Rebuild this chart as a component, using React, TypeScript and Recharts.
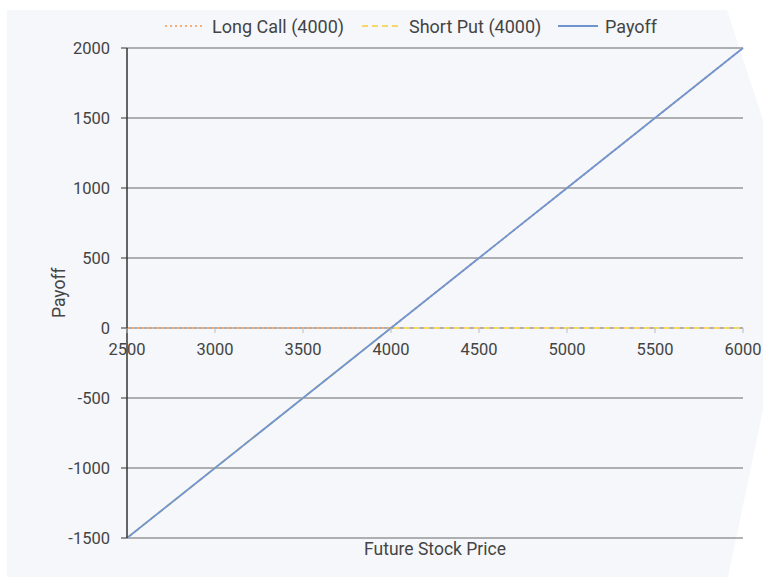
import React from 'react';
import { LineChart, Line, XAxis, YAxis, CartesianGrid, Legend } from 'recharts';

const prices = [2500, 3000, 3500, 4000, 4500, 5000, 5500, 6000];
const longCall = [0, 0, 0, 0, 500, 1000, 1500, 2000];
const shortPut = [-1500, -1000, -500, 0, 0, 0, 0, 0];
const payoff = [-1500, -1000, -500, 0, 500, 1000, 1500, 2000];
const xTicks = [2500, 3000, 3500, 4000, 4500, 5000, 5500, 6000];
const yTicks = [-1500, -1000, -500, 0, 500, 1000, 1500, 2000];

const data = prices.map((p, i) => ({ price: p, longCall: longCall[i], shortPut: shortPut[i], payoff: payoff[i] }));

const W = 763;
const H = 577;
const LEGEND_H = 20;
const MARGIN = { top: 48 - LEGEND_H, right: 20, bottom: 0, left: 52 };
const X_AXIS_H = 39;
const Y_MIN = -1500;
const Y_MAX = 2000;
const PLOT_H = H - 48 - MARGIN.bottom - X_AXIS_H;
const ZERO_SHIFT = (PLOT_H * (0 - Y_MIN)) / (Y_MAX - Y_MIN);

const ORANGE = '#f6ad78';
const YELLOW = '#f7d765';
const BLUE = '#7094d0';
const TEXT = '#444';
const FONT = 'Roboto, sans-serif';

const XTick = (props: any) => {
  const { x, y, payload } = props;
  return (
    <g transform={`translate(${x},${y - ZERO_SHIFT})`}>
      <line x1={0} y1={0} x2={0} y2={5} stroke="#bbb" strokeWidth={1} />
      <text x={0} y={0} dy={27} textAnchor="middle" fill={TEXT} fontSize={16.5} fontFamily={FONT}>
        {payload.value}
      </text>
    </g>
  );
};

const legendItems = [
  { label: 'Long Call (4000)', color: ORANGE, dash: '2 3', width: 197 },
  { label: 'Short Put (4000)', color: YELLOW, dash: '6 4', width: 196 },
  { label: 'Payoff', color: BLUE, dash: undefined, width: 100 },
];

const LegendContent = () => (
  <div style={{ display: 'flex', alignItems: 'center', height: LEGEND_H, fontFamily: FONT, fontSize: 18, color: TEXT, whiteSpace: 'nowrap' }}>
    {legendItems.map((it) => (
      <div key={it.label} style={{ display: 'flex', alignItems: 'center', width: it.width }}>
        <svg width={42} height={10} style={{ marginRight: 5 }}>
          <line x1={0} y1={5} x2={40} y2={5} stroke={it.color} strokeWidth={2} strokeDasharray={it.dash} />
        </svg>
        <span>{it.label}</span>
      </div>
    ))}
  </div>
);

export default function App() {
  return (
    <div style={{ position: 'absolute', left: 0, top: 0, width: W, height: H, background: '#fff' }}>
      <div
        style={{
          position: 'absolute',
          left: 0,
          top: 0,
          width: W,
          height: H,
          background: '#f5f7fb',
          clipPath: 'polygon(7px 10px, 727px 10px, 763px 120px, 763px 410px, 728px 577px, 7px 577px)',
        }}
      />
      <div style={{ position: 'absolute', left: 0, top: 0 }}>
        <LineChart width={W} height={H} data={data} margin={MARGIN}>
          <CartesianGrid vertical={false} stroke="#666" strokeWidth={1} />
          <XAxis
            dataKey="price"
            type="number"
            domain={[2500, 6000]}
            ticks={xTicks}
            height={X_AXIS_H}
            axisLine={false}
            tickLine={false}
            tickSize={0}
            tickMargin={0}
            tick={<XTick />}
            interval={0}
            label={{ value: 'Future Stock Price', position: 'insideTop', offset: 5, fill: TEXT, fontSize: 17.5, fontFamily: FONT }}
          />
          <YAxis
            type="number"
            domain={[Y_MIN, Y_MAX]}
            ticks={yTicks}
            width={75}
            axisLine={{ stroke: '#333', strokeWidth: 1.5 }}
            tickLine={{ stroke: '#333' }}
            tickSize={6}
            tickMargin={11}
            interval={0}
            tick={{ fill: TEXT, fontSize: 16.5, fontFamily: FONT }}
            label={{ value: 'Payoff', angle: -90, position: 'insideLeft', offset: 7, dy: 25, fill: TEXT, fontSize: 17.5, fontFamily: FONT }}
          />
          <Legend verticalAlign="top" height={LEGEND_H} content={<LegendContent />} wrapperStyle={{ top: 16, left: 165, width: 'auto' }} />
          <Line dataKey="longCall" name="Long Call (4000)" stroke={ORANGE} strokeWidth={2} strokeDasharray="2 3" dot={false} isAnimationActive={false} />
          <Line dataKey="shortPut" name="Short Put (4000)" stroke={YELLOW} strokeWidth={2} strokeDasharray="6 4" dot={false} isAnimationActive={false} />
          <Line dataKey="payoff" name="Payoff" stroke={BLUE} strokeWidth={1.8} dot={false} isAnimationActive={false} />
        </LineChart>
      </div>
    </div>
  );
}
